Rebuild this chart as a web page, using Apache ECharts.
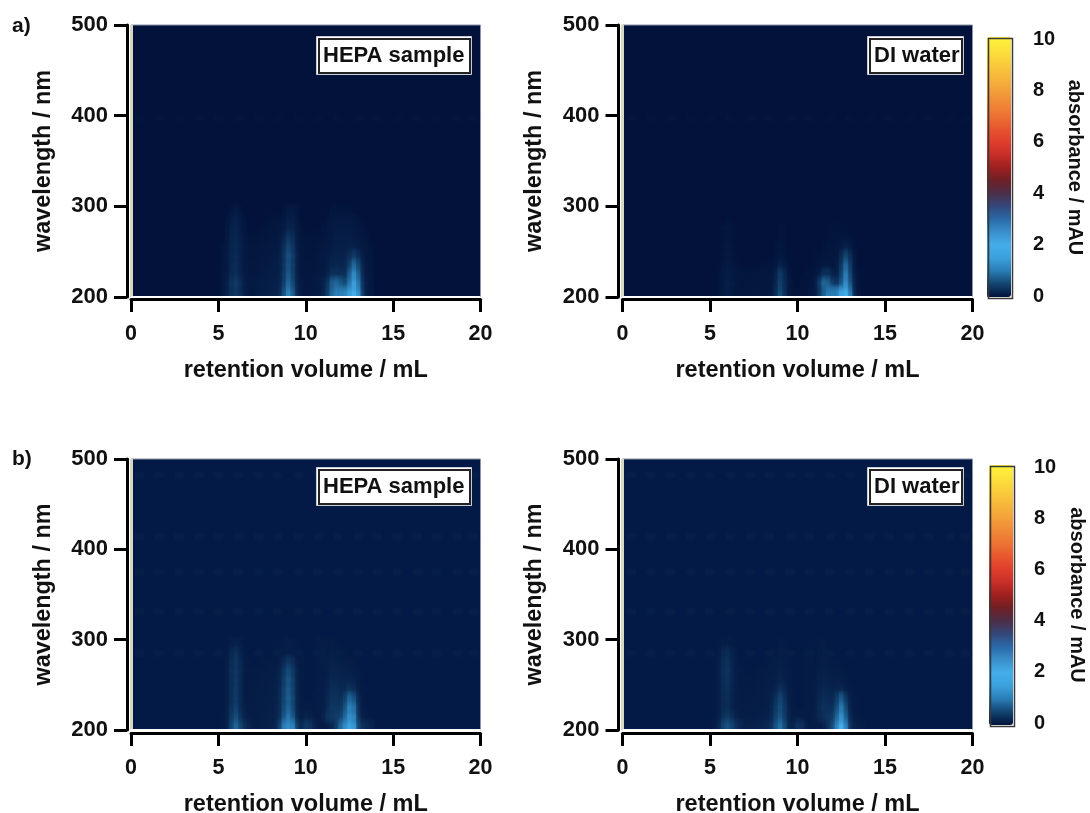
<!DOCTYPE html>
<html><head><meta charset="utf-8">
<style>html,body{margin:0;padding:0;background:#fff}#c{width:1090px;height:813px}</style>
<script src="https://cdn.jsdelivr.net/npm/echarts@6/dist/echarts.min.js"></script>
</head><body><div id="c"></div>
<script>
// ---- data (absorbance in mAU) ----
const retentionVolumes = [5.25,5.5,5.75,6,6.25,6.5,6.75,7,7.25,7.5,7.75,8,8.25,8.5,8.75,9,9.25,9.5,9.75,10,10.25,10.5,10.75,11,11.25,11.5,11.75,12,12.25,12.5,12.75,13,13.25,13.5,13.75];
const wavelengths = [295,285,275,265,255,245,235,225,215,205];
const xTicks = [0,5,10,15,20];
const yTicks = [200,300,400,500];
const colorbarTicks = [0,2,4,6,8,10];
const rippleVolumes = [0.5,1.6,2.75,3.9,5,6.15,7.3,8.4,9.6,10.7,11.85,13,14.1,15.25,16.4,17.5,18.7,19.6];
const rippleRowsTop = [397];
const rippleRowsBottom = [482,414,375,331,285];
const rippleLevelTop = 0.03;
const rippleLevelBottom = 0.06;
const baselineTop = 0;
const baselineBottom = 0.07;

const hepaTop = [
[0,0,.04,.08,.04,0,0, 0,0,0,0,0,0, 0,.04,.08,.08,.04,0, 0,0,0,0,0, 0,.04,.04,.04,.04,.04,0,0,0,0,0],
[0,.04,.1,.14,.08,.04,0, 0,0,0,0,.04,.04, .04,.06,.12,.12,.06,0, 0,0,0,0,0, .04,.06,.08,.08,.08,.08,.06,.04,0,0,0],
[0,.05,.14,.18,.1,.05,0, 0,0,.04,.04,.05,.05, .06,.1,.18,.16,.08,.04, 0,0,0,0,.04, .05,.08,.1,.1,.1,.1,.08,.06,.04,0,0],
[0,.05,.16,.2,.12,.05,.04, .04,.04,.05,.05,.06,.06, .08,.16,.35,.25,.08,.04, .04,.04,.04,.04,.05, .06,.08,.12,.12,.12,.12,.1,.08,.05,.04,0],
[.04,.06,.18,.22,.14,.06,.05, .05,.05,.06,.06,.08,.08, .1,.24,.5,.34,.1,.05, .04,.04,.04,.05,.06, .08,.1,.14,.14,.14,.16,.16,.12,.08,.05,.04],
[.04,.07,.2,.24,.14,.07,.05, .05,.06,.06,.08,.08,.1, .12,.3,.6,.4,.12,.05, .04,.04,.05,.06,.08, .1,.14,.16,.16,.16,.25,.4,.25,.1,.06,.04],
[.05,.08,.2,.26,.15,.07,.06, .06,.06,.08,.08,.1,.12, .14,.3,.62,.4,.12,.06, .05,.05,.05,.06,.08, .12,.18,.2,.18,.2,.4,.8,.5,.14,.07,.05],
[.05,.08,.22,.28,.16,.08,.06, .06,.08,.08,.1,.12,.12, .14,.34,.68,.42,.12,.06, .05,.05,.06,.08,.1, .14,.3,.32,.3,.26,.65,1.2,.7,.18,.08,.05],
[.06,.12,.3,.4,.24,.12,.08, .08,.1,.12,.12,.14,.14, .16,.4,.8,.5,.14,.08, .06,.06,.08,.1,.14, .3,.7,.8,.65,.5,.9,1.5,.9,.25,.1,.06],
[.06,.12,.3,.36,.24,.12,.08, .08,.1,.12,.14,.14,.16, .2,.55,1.05,.65,.16,.08, .06,.06,.08,.1,.14, .35,.8,1.05,1.05,1.05,1.45,2,1.2,.3,.1,.06]];

const waterTop = [
[0,0,0,0,0,0,0, 0,0,0,0,0,0, 0,0,0,0,0,0, 0,0,0,0,0, 0,0,0,0,0,0,0,0,0,0,0],
[0,0,0,.03,0,0,0, 0,0,0,0,0,0, 0,0,0,0,0,0, 0,0,0,0,0, 0,0,0,0,0,0,0,0,0,0,0],
[0,0,.03,.05,.03,0,0, 0,0,0,0,0,0, 0,0,.03,.03,0,0, 0,0,0,0,0, 0,0,.03,.03,.03,.03,.03,0,0,0,0],
[0,0,.03,.05,.03,0,0, 0,0,0,0,0,0, 0,0,.03,.03,0,0, 0,0,0,0,0, 0,0,.03,.04,.04,.04,.04,.03,0,0,0],
[0,0,.03,.06,.03,0,0, 0,0,0,0,0,0, 0,.03,.05,.03,0,0, 0,0,0,0,0, 0,.03,.04,.04,.05,.08,.16,.08,.03,0,0],
[0,0,.04,.07,.04,0,0, 0,0,0,0,0,0, 0,.03,.06,.04,0,0, 0,0,0,0,.03, .03,.04,.05,.05,.06,.2,.5,.25,.05,0,0],
[0,0,.05,.08,.05,.03,0, 0,0,0,0,.03,.03, .03,.05,.15,.08,.03,0, 0,0,0,0,.03, .04,.06,.07,.06,.08,.3,.8,.35,.06,0,0],
[0,.03,.08,.12,.08,.05,.05, .04,.04,.05,.05,.05,.05, .05,.12,.4,.2,.04,0, 0,0,.03,.03,.05, .1,.3,.28,.14,.12,.4,1,.45,.08,.03,0],
[0,.03,.08,.14,.1,.06,.05, .05,.05,.06,.06,.06,.06, .06,.16,.45,.22,.05,.03, 0,.03,.03,.04,.08, .35,.8,.7,.4,.3,.6,1.25,.6,.1,.03,0],
[0,.03,.08,.12,.08,.05,.05, .05,.05,.06,.06,.06,.06, .06,.2,.55,.25,.05,.03, .03,.03,.03,.05,.08, .3,.7,1,1,1,1.5,1.95,.9,.14,.04,0]];

const hepaBottom = [
[0,0,.05,.08,.05,0,0, 0,0,0,0,0,0, 0,.03,.05,.05,0,0, 0,0,0,.04,.05, .05,.05,.03,0,0,0,0,0,0,0,0],
[0,.03,.14,.22,.1,.03,0, 0,0,0,0,0,.03, .03,.04,.06,.05,.03,0, 0,0,0,.05,.06, .05,.06,.05,.03,.03,0,0,0,0,0,0],
[0,.04,.18,.28,.14,.04,.03, 0,0,.03,.03,.03,.03, .05,.14,.28,.18,.05,.03, 0,0,0,.05,.06, .06,.08,.07,.05,.05,.04,.03,0,0,0,0],
[0,.04,.2,.3,.14,.05,.03, .03,.03,.03,.03,.04,.05, .08,.26,.48,.3,.08,.03, 0,0,0,.05,.05, .07,.1,.1,.08,.08,.06,.04,.03,0,0,0],
[0,.04,.2,.3,.14,.05,.03, .03,.03,.04,.04,.05,.06, .1,.34,.58,.36,.08,.03, 0,0,0,.05,.05, .08,.14,.14,.12,.12,.12,.08,.04,0,0,0],
[0,.04,.2,.32,.14,.05,.03, .03,.04,.05,.05,.06,.07, .12,.38,.62,.38,.08,.03, 0,0,0,.05,.05, .1,.2,.2,.16,.16,.25,.18,.06,.03,0,0],
[0,.04,.2,.34,.14,.05,.03, .04,.05,.05,.06,.06,.08, .14,.42,.66,.42,.08,.03, 0,0,.03,.05,.05, .12,.24,.24,.2,.35,.7,.5,.12,.03,0,0],
[0,.04,.22,.38,.16,.06,.04, .05,.05,.05,.06,.07,.08, .14,.46,.7,.44,.08,.03, .03,.03,.03,.05,.06, .14,.3,.28,.28,.5,1,.8,.16,.04,0,0],
[0,.05,.3,.5,.22,.08,.05, .05,.05,.06,.07,.08,.08, .18,.55,.85,.55,.1,.05, .1,.06,.03,.03,.08, .25,.3,.36,.4,.7,1.2,1,.2,.06,.03,0],
[.03,.05,.4,.7,.4,.18,.1, .05,.05,.06,.07,.08,.1, .3,.9,1.15,.95,.25,.12, .3,.25,.08,.03,.03, .04,.1,.3,.7,1.1,1.6,1.25,.4,.2,.14,.1]];

const waterBottom = [
[0,0,.04,.05,.03,0,0, 0,0,0,0,0,0, 0,0,.03,.03,0,0, 0,0,0,0,0, .04,.04,0,0,0,0,0,0,0,0,0],
[0,.03,.14,.18,.08,.03,0, 0,0,0,0,0,0, 0,.03,.05,.04,0,0, 0,0,.03,.03,0, .05,.05,.03,0,0,0,0,0,0,0,0],
[0,.04,.18,.24,.12,.04,0, 0,0,0,0,0,.03, .03,.04,.06,.05,.03,0, 0,0,.03,.03,0, .05,.06,.04,.03,.03,0,0,0,0,0,0],
[0,.04,.2,.26,.12,.04,.03, 0,0,0,.03,.03,.03, .04,.05,.08,.06,.03,0, 0,0,.03,.03,.03, .06,.08,.06,.05,.05,.03,0,0,0,0,0],
[0,.04,.18,.24,.12,.04,.03, .03,.03,.03,.03,.03,.04, .05,.06,.1,.07,.03,0, 0,0,.03,.03,.03, .08,.1,.08,.06,.06,.05,.03,0,0,0,0],
[0,.04,.16,.22,.1,.04,.03, .03,.03,.03,.04,.04,.05, .06,.1,.2,.12,.04,0, 0,0,.03,.03,.04, .1,.14,.12,.1,.12,.12,.06,.03,0,0,0],
[0,.04,.16,.2,.1,.04,.03, .03,.03,.04,.04,.05,.06, .08,.2,.42,.22,.05,.03, 0,0,.03,.03,.04, .12,.18,.16,.14,.3,.6,.25,.06,.03,0,0],
[0,.04,.16,.2,.1,.05,.04, .04,.04,.05,.05,.05,.06, .1,.28,.5,.28,.06,.03, 0,0,.03,.03,.05, .16,.24,.22,.2,.45,.9,.42,.08,.03,0,0],
[0,.05,.22,.3,.18,.08,.05, .05,.05,.05,.06,.06,.08, .12,.35,.55,.32,.08,.04, .05,.04,.03,.03,.06, .14,.2,.28,.3,.65,1.2,.6,.1,.04,.03,0],
[.03,.08,.4,.55,.4,.2,.12, .08,.08,.08,.1,.12,.14, .2,.5,.8,.45,.12,.08, .25,.2,.05,.03,.03, .04,.08,.2,.45,.95,1.85,.9,.2,.08,.06,.05]];

const rainbow = ['#02123a','#124470','#2a7cb5','#3aa0dc','#44aeea','#3a8fcb','#2a6aa8','#33477a','#4d2e48','#702026','#a02020','#c92f28','#e03f2c','#e7582f','#ec7433','#f08a37','#f4a23b','#f7b83c','#f9cd3c','#fce23c','#fff53c'];

// ---- layout ----
const FONT = '"Liberation Sans", Arial, sans-serif';
const panels = [
 {table:hepaTop,    left:131,   top:25,  h:272, w:349.5, bg:'#02123a', rows:rippleRowsTop,    level:rippleLevelTop,    base:baselineTop,    box:'HEPA sample', bx:316, by:36,  bw:155, off:2},
 {table:waterTop,   left:622.5, top:25,  h:272, w:350,   bg:'#02123a', rows:rippleRowsTop,    level:rippleLevelTop,    base:baselineTop,    box:'DI water',    bx:867, by:36,  bw:96,  off:2},
 {table:hepaBottom, left:131,   top:459, h:271, w:349.5, bg:'#041a46', rows:rippleRowsBottom, level:rippleLevelBottom, base:baselineBottom, box:'HEPA sample', bx:316, by:467, bw:155, off:3},
 {table:waterBottom,left:622.5, top:459, h:271, w:350,   bg:'#041a46', rows:rippleRowsBottom, level:rippleLevelBottom, base:baselineBottom, box:'DI water',    bx:867, by:467, bw:96,  off:3}
];
const bars = [
 {left:987, top:39,  h:257, vTop:37,  vH:260, tick:12, mar:22, col:'#555'},
 {left:989, top:467, h:256, vTop:465, vH:260, tick:14, mar:21, col:'#333'}
];

function cells(p){
  const out = [];
  p.table.forEach((row,r)=>row.forEach((v,c)=>{
    if(v>0) out.push([retentionVolumes[c], wavelengths[r], v+p.base, 0.25, 10, 4]);
  }));
  p.rows.forEach(w=>rippleVolumes.forEach(x=>{
    out.push([x, w, p.level+p.base, 0.5, 5, 3]);
  }));
  return out.sort((a,b)=>a[2]-b[2]);
}
function renderCell(params, api){
  const x=api.value(0), w=api.value(1), dx=api.value(3), dw=api.value(4);
  const a=api.coord([x-dx/2,w+dw]), b=api.coord([x+dx/2,w-dw]);
  const color=api.visual('color');
  const clear=echarts.color.modifyAlpha(color,0);
  const touchesFloor = w-dw/2<=200;
  const fill={type:'linear',x:0,y:0,x2:0,y2:1,colorStops:[
    {offset:0,color:clear},{offset:0.5,color:color},{offset:1,color:touchesFloor?color:clear}]};
  return {type:'rect',shape:{x:a[0],y:a[1],width:b[0]-a[0],height:b[1]-a[1]},
    style:{fill:fill,shadowBlur:api.value(5),shadowColor:color}};
}

const grid=[], xAxis=[], yAxis=[], series=[], graphic=[];
const labelFont={fontFamily:FONT,fontWeight:'bold',color:'#111'};
panels.forEach((p,i)=>{
  grid.push({left:p.left,top:p.top,width:p.w,height:p.h,outerBoundsMode:'none',show:true,backgroundColor:p.bg,borderColor:'#8d93a8',borderWidth:1});
  xAxis.push({type:'value',gridIndex:i,min:0,max:20,interval:5,position:'bottom',offset:p.off,
    name:'retention volume / mL',nameLocation:'middle',nameGap:60,
    nameTextStyle:{...labelFont,fontSize:23.5},
    axisLine:{onZero:false,lineStyle:{color:'#000',width:3}},
    axisTick:{length:13,lineStyle:{color:'#000',width:3}},
    axisLabel:{...labelFont,fontSize:21.5,margin:24,customValues:xTicks},
    splitLine:{show:false}});
  yAxis.push({type:'value',gridIndex:i,min:200,max:500,interval:100,position:'left',offset:4,
    name:'wavelength / nm',nameLocation:'middle',nameGap:72,
    nameTextStyle:{...labelFont,fontSize:23.4},
    axisLine:{onZero:false,lineStyle:{color:'#000',width:3}},
    axisTick:{length:13,lineStyle:{color:'#000',width:3}},
    axisLabel:{...labelFont,fontSize:22,margin:19,customValues:yTicks},
    splitLine:{show:false}});
  series.push({type:'custom',xAxisIndex:i,yAxisIndex:i,clip:true,animation:false,silent:true,
    encode:{x:0,y:1},renderItem:renderCell,data:cells(p),
    markLine:{silent:true,animation:false,symbol:'none',label:{show:false},data:[
      {xAxis:0,lineStyle:{color:'#d8d8c2',width:3,type:'solid'}},
      {yAxis:200,lineStyle:{color:'#ffffff',width:2,type:'solid'}}]}});
  graphic.push(
    {type:'rect',z:100,left:p.bx,top:p.by,shape:{width:p.bw,height:38},style:{fill:'#fff',stroke:'#c8ccd8',lineWidth:1}},
    {type:'rect',z:101,left:p.bx+2,top:p.by+2,shape:{width:p.bw-4,height:34},style:{fill:'#fff',stroke:'#222',lineWidth:2}},
    {type:'text',z:102,left:p.bx+7,top:p.by+9,style:{text:p.box,fill:'#111',font:'bold 22px '+FONT}});
});
bars.forEach((b,k)=>{
  const i=panels.length+k;
  grid.push({left:b.left,top:b.top,width:24,height:b.h,outerBoundsMode:'none',show:false});
  xAxis.push({type:'value',gridIndex:i,show:false,min:0,max:1});
  yAxis.push({type:'value',gridIndex:i,min:0,max:10,interval:2,position:'right',
    name:'absorbance / mAU',nameLocation:'middle',nameRotate:-90,nameGap:54,
    nameTextStyle:{...labelFont,fontSize:20},
    axisLine:{show:false},
    axisTick:{length:b.tick,lineStyle:{color:b.col,width:2}},
    axisLabel:{...labelFont,fontSize:20,margin:b.mar,customValues:colorbarTicks},
    splitLine:{show:false}});
  graphic.push({type:'rect',z:50,left:b.left-1,top:b.vTop-1,shape:{width:24,height:b.vH},style:{fill:'none',stroke:'#3a3a3a',lineWidth:1.5}});
});
graphic.push(
  {type:'text',left:12,top:16,style:{text:'a)',fill:'#111',font:'bold 21px '+FONT}},
  {type:'text',left:12,top:449,style:{text:'b)',fill:'#111',font:'bold 21px '+FONT}});

const visualMap = bars.map((b,k)=>({type:'continuous',min:0,max:10,dimension:2,
  seriesIndex:k===0?[0,1]:[2,3],calculable:false,realtime:false,hoverLink:false,text:null,
  left:b.left,top:b.vTop,itemWidth:24,itemHeight:b.vH,padding:0,showLabel:false,
  inRange:{color:rainbow},textStyle:{fontSize:0}}));

const chart=echarts.init(document.getElementById('c'),null,{renderer:'canvas'});
chart.setOption({animation:false,backgroundColor:'#fff',grid,xAxis,yAxis,series,visualMap,graphic,tooltip:{show:false}});
</script></body></html>
